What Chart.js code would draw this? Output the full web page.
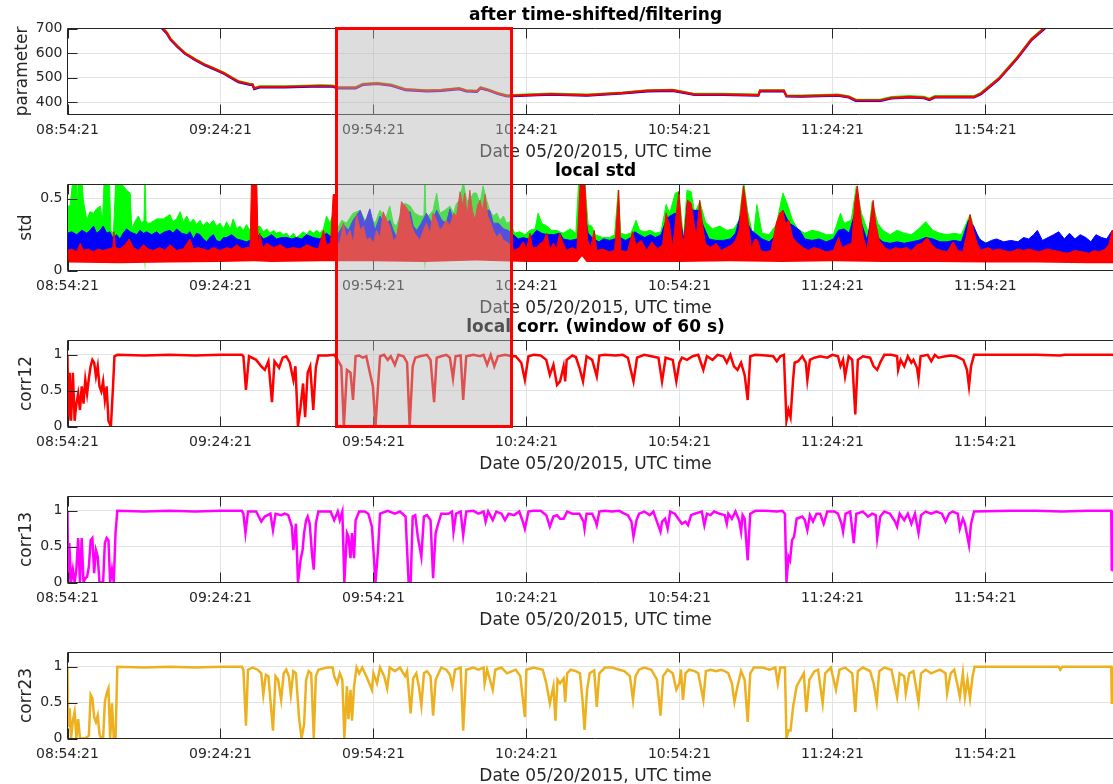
<!DOCTYPE html>
<html>
<head>
<meta charset="utf-8">
<script src="https://cdn.jsdelivr.net/npm/chart.js@4.4.1/dist/chart.umd.min.js"></script>
<style>
  html, body { margin: 0; padding: 0; background: #fff; }
  body { width: 1113px; height: 784px; overflow: hidden; position: relative; }
  .panel { position: absolute; left: 0; width: 1124px; height: 170px; }
  #box { position: absolute; box-sizing: border-box; border: 3.5px solid #ff0000;
         background: rgba(180, 180, 180, 0.45); z-index: 10; }
</style>
</head>
<body>
<div class="panel" style="top:0px"><canvas id="p1" width="1124" height="170"></canvas></div>
<div class="panel" style="top:156px"><canvas id="p2" width="1124" height="170"></canvas></div>
<div class="panel" style="top:312px"><canvas id="p3" width="1124" height="170"></canvas></div>
<div class="panel" style="top:468px"><canvas id="p4" width="1124" height="170"></canvas></div>
<div class="panel" style="top:624px"><canvas id="p5" width="1124" height="170"></canvas></div>
<div id="box"></div>
<script>
// ---- x axis: minutes after 08:54:21 ----
const tickMinutes = [0, 30, 60, 90, 120, 150, 180];
const tickLabels = ["08:54:21", "09:24:21", "09:54:21", "10:24:21", "10:54:21", "11:24:21", "11:54:21"];
const xMax = 207.1;
const xLabel = "Date 05/20/2015, UTC time";

// highlighted window (minutes)
const boxStart = 52.9;
const boxEnd = 87.0;

// ---- panel 1: parameter ----
const paramT = [17.5,18.7,19.5,20.2,21.6,23.0,25.1,27.0,28.6,30.7,
  32.1,33.5,35.6,36.3,36.6,37.7,42.6,49.5,52.0,53.0,
  56.5,57.9,60.7,63.5,66.3,70.5,73.3,76.8,78.2,80.3,
  81.0,82.3,84.4,86.2,89.7,94.8,101.9,108.9,113.8,118.7,
  123.0,128.6,135.5,135.8,140.5,141.0,144.0,151.1,153.2,154.6,
  159.5,161.6,165.1,168.0,169.0,170.1,177.8,179.2,182.7,186.2,
  189.0,191.5,193.0];
const paramRed = [728,700,682,657,627,600,573,552,538,518,
  501,484,474,472,456,463,463,467,466,459,
  459,473,477,470,452,447,449,456,447,445,
  459,452,436,426,429,433,429,438,447,449,
  432,432,429,447,447,426,425,429,422,408,
  408,418,422,419,411,422,422,436,497,579,
  655,700,728];
const paramBlue = [724,696,678,654,624,597,570,549,535,515,
  498,481,471,469,453,460,460,464,463,456,
  456,470,474,467,449,444,446,453,444,442,
  456,449,433,423,426,430,426,435,444,446,
  429,429,426,444,444,423,422,426,419,405,
  405,415,419,416,408,419,419,433,493,575,
  651,696,724];
const paramGreen = [730,702,684,659,629,602,575,554,540,520,
  503,486,476,474,458,465,465,469,468,461,
  461,475,479,472,454,449,451,458,449,447,
  461,454,438,428,431,435,431,440,449,451,
  434,434,431,449,449,428,427,431,424,410,
  411,421,425,422,414,425,425,439,500,582,
  658,703,731];

// ---- panel 2: local std (upper envelopes) ----
const stdGreenT = [0,0.5,1.1,1.7,1.9,2.1,2.8,3.1,3.8,4.4,
  5.1,5.7,6.4,6.9,7.2,8.2,8.5,9.0,9.5,10.3,
  10.9,11.6,12.3,12.6,13.2,13.9,14.5,15.0,15.2,15.4,
  15.7,16.2,17.5,18.8,20.1,20.7,21.4,22.1,22.7,23.4,
  24.0,24.7,25.3,26.0,26.6,27.3,27.9,28.6,29.2,29.9,
  30.6,31.2,31.9,32.5,33.2,33.8,34.5,35.1,35.8,36.6,
  37.7,38.4,39.1,39.7,40.4,41.0,41.7,42.3,43.0,43.6,
  44.3,44.9,45.6,46.2,46.9,47.5,48.2,48.9,49.5,50.2,
  50.8,51.5,52.1,53.0,53.8,54.7,56.0,57.4,58.3,59.3,
  60.3,61.3,62.3,63.2,63.9,64.5,65.2,66.2,67.2,68.1,
  69.1,69.9,70.1,70.3,70.8,71.7,72.4,73.0,74.0,75.0,
  75.7,76.3,77.0,77.6,78.3,78.9,79.6,80.2,80.9,81.5,
  82.2,82.8,83.5,84.2,84.8,85.5,86.1,86.8,87.7,88.7,
  89.7,90.7,91.7,92.3,93.0,94.0,94.9,95.9,97.2,98.6,
  99.7,100.3,101.4,102.1,102.8,103.5,104.9,106.3,107.3,108.0,
  108.5,109.4,110.5,111.5,112.2,113.2,114.3,115.3,116.4,117.4,
  118.1,119.2,119.9,120.8,121.5,122.3,123.0,124.0,125.1,126.5,
  127.9,129.3,130.7,131.7,132.6,133.4,134.5,135.2,136.2,137.6,
  139.0,140.3,141.1,142.2,143.2,144.6,146.0,147.4,148.8,150.2,
  151.6,152.3,153.7,154.7,155.7,157.1,157.8,158.9,159.9,161.3,
  162.7,164.1,165.5,166.9,168.3,169.7,171.1,172.5,173.9,175.3,
  177.0,178.0,179.4,185.0,195.0,207.1];
const stdGreenV = [0.45,0.45,0.65,0.65,0.40,0.65,0.65,0.49,0.35,0.41,
  0.40,0.43,0.45,0.35,0.65,0.65,0.28,0.26,0.65,0.65,
  0.59,0.56,0.54,0.29,0.34,0.38,0.33,0.35,0.65,0.35,
  0.33,0.33,0.36,0.36,0.39,0.34,0.36,0.41,0.34,0.38,
  0.33,0.36,0.32,0.35,0.31,0.34,0.32,0.35,0.31,0.33,
  0.29,0.34,0.29,0.36,0.29,0.31,0.28,0.32,0.28,0.30,
  0.31,0.27,0.29,0.26,0.28,0.26,0.27,0.25,0.26,0.23,
  0.26,0.23,0.25,0.27,0.25,0.28,0.26,0.28,0.26,0.29,
  0.38,0.33,0.40,0.30,0.35,0.33,0.40,0.42,0.35,0.38,
  0.33,0.42,0.35,0.45,0.33,0.31,0.38,0.47,0.45,0.40,
  0.38,0.38,0.65,0.38,0.38,0.42,0.54,0.40,0.42,0.45,
  0.40,0.47,0.49,0.62,0.49,0.49,0.54,0.54,0.47,0.59,
  0.49,0.42,0.38,0.40,0.35,0.38,0.33,0.34,0.26,0.27,
  0.25,0.28,0.29,0.40,0.33,0.31,0.28,0.28,0.26,0.29,
  0.26,0.65,0.65,0.32,0.31,0.25,0.23,0.23,0.25,0.56,
  0.26,0.25,0.26,0.35,0.28,0.27,0.28,0.26,0.27,0.46,
  0.40,0.54,0.55,0.22,0.56,0.55,0.40,0.48,0.34,0.29,
  0.31,0.28,0.29,0.35,0.62,0.41,0.23,0.46,0.26,0.25,
  0.32,0.54,0.47,0.35,0.29,0.26,0.28,0.27,0.25,0.25,
  0.40,0.33,0.35,0.59,0.40,0.26,0.48,0.33,0.28,0.25,
  0.28,0.26,0.25,0.29,0.34,0.28,0.26,0.25,0.26,0.25,
  0.39,0.27,0.20,0.17,0.17,0.17];
// green lower edge (mostly hidden under red, with a few drop-outs)
const stdGreenLowT = [0,15.0,15.2,15.4,69.9,70.1,70.3,196.7,196.9,197.1,207.1];
const stdGreenLowV = [0.11,0.11,0,0.11,0.11,0,0.11,0.11,0.04,0.11,0.11];

const stdBlueT = [0,0.8,1.8,2.8,3.8,4.4,5.1,5.7,6.4,7.0,
  7.7,8.3,9.0,9.6,10.3,10.9,11.6,12.3,12.9,13.6,
  14.2,14.9,15.5,16.5,17.5,18.1,19.1,20.1,20.7,21.4,
  22.4,23.4,24.0,24.7,25.3,26.0,26.6,27.3,27.9,28.6,
  29.2,29.9,30.6,31.2,32.2,33.2,34.2,35.1,36.5,37.7,
  38.4,39.1,40.0,41.0,42.0,43.0,44.0,44.9,45.9,46.9,
  48.2,49.5,50.8,51.8,53.0,54.1,55.1,56.0,57.4,58.3,
  59.3,60.3,61.3,62.3,63.2,63.9,64.5,65.2,65.8,67.2,
  67.8,68.5,69.4,70.4,71.4,72.4,73.4,74.3,75.0,75.7,
  76.3,77.0,77.9,78.9,79.9,80.9,81.9,82.8,83.5,84.5,
  85.5,86.4,87.4,88.4,89.4,90.4,91.3,92.0,93.0,94.0,
  95.3,96.6,97.2,98.6,100.0,101.0,102.1,103.1,104.2,105.2,
  106.3,107.3,108.4,109.4,110.5,111.2,112.2,113.2,114.3,115.3,
  116.4,117.4,118.1,119.2,120.2,120.9,121.6,122.6,123.7,124.7,
  125.8,127.2,128.6,130.0,131.0,132.1,133.1,134.1,135.2,136.2,
  137.6,139.0,140.3,141.5,142.5,143.6,144.6,146.0,147.4,148.8,
  150.2,151.2,152.3,153.3,154.4,155.7,156.8,157.8,158.9,159.9,
  161.3,162.7,164.1,165.5,166.9,168.3,169.7,171.1,172.5,173.9,
  175.3,176.7,177.7,178.8,180.1,181.2,182.2,183.6,185.0,186.4,
  187.5,188.5,189.5,190.2,191.2,192.3,193.4,194.4,195.5,196.5,
  197.6,198.6,199.7,200.7,201.7,202.8,203.8,204.9,206.0,207.1];
const stdBlueV = [0.26,0.27,0.25,0.28,0.26,0.28,0.31,0.26,0.28,0.31,
  0.26,0.27,0.22,0.25,0.22,0.26,0.29,0.27,0.26,0.25,
  0.28,0.26,0.27,0.25,0.27,0.25,0.27,0.28,0.26,0.29,
  0.26,0.25,0.27,0.22,0.26,0.25,0.22,0.20,0.23,0.25,
  0.21,0.20,0.23,0.23,0.25,0.22,0.21,0.20,0.22,0.25,
  0.22,0.23,0.25,0.22,0.23,0.23,0.22,0.23,0.22,0.25,
  0.23,0.22,0.26,0.23,0.25,0.32,0.28,0.35,0.42,0.33,
  0.43,0.28,0.38,0.31,0.35,0.28,0.23,0.33,0.38,0.41,
  0.31,0.28,0.33,0.40,0.33,0.42,0.35,0.33,0.43,0.35,
  0.31,0.38,0.35,0.42,0.36,0.40,0.42,0.42,0.33,0.33,
  0.29,0.28,0.25,0.22,0.23,0.22,0.25,0.28,0.26,0.25,
  0.25,0.26,0.22,0.21,0.22,0.49,0.26,0.22,0.20,0.22,
  0.21,0.22,0.23,0.21,0.23,0.27,0.25,0.23,0.25,0.23,
  0.25,0.35,0.38,0.40,0.35,0.21,0.49,0.42,0.42,0.31,
  0.22,0.21,0.21,0.22,0.26,0.40,0.35,0.28,0.25,0.22,
  0.20,0.25,0.42,0.33,0.31,0.28,0.22,0.21,0.22,0.20,
  0.22,0.28,0.29,0.26,0.40,0.33,0.21,0.40,0.23,0.20,
  0.19,0.20,0.19,0.20,0.21,0.23,0.22,0.20,0.20,0.21,
  0.20,0.35,0.31,0.22,0.19,0.21,0.22,0.20,0.21,0.20,
  0.23,0.22,0.25,0.28,0.21,0.23,0.25,0.27,0.22,0.26,
  0.22,0.25,0.23,0.20,0.25,0.23,0.22,0.28,0.24,0.22];

const stdRedT = [0,0.8,1.8,2.5,3.1,4.1,5.1,6.0,7.0,8.0,
  8.9,9.1,9.4,10.3,11.3,12.1,12.9,13.9,14.9,15.8,
  16.8,18.1,19.1,20.1,21.4,22.7,24.0,24.7,25.6,26.6,
  27.6,28.6,29.9,31.2,32.2,33.2,34.2,35.1,35.8,36.1,
  37.1,37.4,37.7,38.3,39.1,40.4,41.7,43.0,44.3,45.6,
  46.9,48.2,49.2,50.2,50.8,51.6,52.1,52.6,53.0,53.4,
  54.1,54.7,55.4,56.0,56.7,57.4,58.0,58.7,59.3,60.0,
  60.6,61.3,61.9,62.6,63.2,63.9,64.5,65.1,65.5,66.2,
  66.8,67.5,68.1,69.1,69.8,70.4,71.1,71.7,72.4,73.0,
  73.7,74.3,75.0,75.7,76.3,77.0,77.5,77.9,78.4,78.9,
  79.4,79.9,80.4,80.9,81.4,81.9,82.4,82.8,83.5,84.2,
  84.8,85.5,86.1,86.8,87.7,88.6,89.4,90.0,90.7,91.2,
  92.0,92.7,93.3,94.0,94.6,95.3,95.9,96.5,97.2,97.9,
  99.0,99.9,100.6,101.4,102.0,102.6,103.3,103.8,104.9,106.3,
  107.3,107.8,108.1,108.5,109.8,110.8,111.5,112.5,113.6,114.6,
  115.7,116.7,117.4,118.0,118.7,119.4,119.9,120.6,121.0,121.6,
  122.3,122.9,123.3,124.0,124.5,125.1,126.1,127.2,128.2,129.3,
  130.3,131.0,131.7,132.2,132.6,133.1,133.6,134.1,134.8,135.4,
  135.9,136.9,138.0,139.0,139.7,140.3,140.8,141.5,142.2,143.2,
  144.3,145.3,146.3,147.4,148.8,150.2,151.2,151.9,153.0,153.8,
  154.4,154.9,155.5,156.1,156.8,157.5,158.0,158.5,159.2,160.3,
  161.3,162.4,163.4,164.5,165.5,166.6,167.6,168.6,169.3,170.4,
  171.4,172.5,173.7,174.6,175.6,176.5,177.0,177.7,178.4,179.1,
  180.5,181.5,182.6,183.6,185.0,186.4,187.5,188.5,189.5,190.6,
  192.0,193.4,194.8,196.2,197.6,199.0,200.3,201.4,202.4,203.5,
  204.2,204.9,206.0,207.1];
const stdRedV = [0.14,0.15,0.13,0.19,0.14,0.15,0.13,0.15,0.14,0.15,
  0.16,0.27,0.16,0.15,0.18,0.22,0.16,0.14,0.18,0.15,
  0.14,0.16,0.14,0.18,0.14,0.15,0.22,0.15,0.16,0.15,
  0.14,0.16,0.14,0.16,0.15,0.18,0.15,0.16,0.16,0.65,
  0.65,0.16,0.26,0.16,0.19,0.16,0.18,0.15,0.16,0.15,
  0.18,0.16,0.15,0.28,0.18,0.19,0.53,0.53,0.19,0.19,
  0.33,0.23,0.28,0.19,0.39,0.28,0.31,0.21,0.23,0.19,
  0.28,0.23,0.41,0.35,0.31,0.21,0.23,0.35,0.48,0.45,
  0.42,0.31,0.26,0.21,0.28,0.33,0.26,0.40,0.35,0.28,
  0.31,0.35,0.31,0.40,0.38,0.55,0.45,0.54,0.38,0.56,
  0.42,0.35,0.45,0.49,0.42,0.53,0.38,0.35,0.28,0.23,
  0.26,0.21,0.20,0.18,0.14,0.16,0.20,0.15,0.26,0.16,
  0.16,0.19,0.20,0.26,0.15,0.19,0.15,0.26,0.19,0.14,
  0.16,0.14,0.65,0.65,0.21,0.16,0.28,0.14,0.15,0.13,
  0.14,0.40,0.56,0.14,0.13,0.27,0.18,0.21,0.14,0.20,
  0.15,0.18,0.40,0.33,0.16,0.40,0.55,0.21,0.23,0.49,
  0.47,0.33,0.23,0.49,0.33,0.19,0.16,0.19,0.14,0.16,
  0.18,0.21,0.28,0.47,0.59,0.45,0.31,0.16,0.22,0.21,
  0.14,0.13,0.14,0.33,0.40,0.42,0.33,0.35,0.23,0.19,
  0.16,0.14,0.16,0.15,0.13,0.14,0.23,0.16,0.18,0.19,
  0.47,0.59,0.40,0.23,0.14,0.35,0.49,0.33,0.21,0.16,
  0.14,0.16,0.15,0.16,0.14,0.18,0.19,0.23,0.19,0.15,
  0.14,0.13,0.20,0.14,0.13,0.28,0.39,0.28,0.19,0.14,
  0.16,0.14,0.15,0.14,0.13,0.15,0.14,0.15,0.14,0.13,
  0.15,0.14,0.13,0.12,0.14,0.13,0.12,0.14,0.13,0.15,
  0.18,0.28,0.16,0.14];
const stdRedLowT = [0,10,20,30,36.6,40,50,60,70,80,
  90,100,100.9,101.8,110,120,130,140,150,160,
  170,180,190,200,207.1];
const stdRedLowV = [0.055,0.05,0.055,0.06,0.065,0.06,0.065,0.065,0.06,0.07,
  0.06,0.06,0.10,0.06,0.06,0.06,0.065,0.06,0.065,0.06,
  0.06,0.055,0.055,0.05,0.05];

// ---- panels 3-5: local correlations ----
const corr12T = [0,0.14,0.42,0.70,1.05,1.40,1.74,2.09,2.44,2.79,
  3.14,3.49,3.84,4.19,4.54,4.88,5.23,5.58,5.93,6.28,
  6.63,6.98,7.33,7.68,8.03,8.51,8.93,9.21,9.77,15,
  20,25,30,34.2,34.5,35.0,35.6,37.0,38.0,38.7,
  39.4,40.1,40.6,41.5,42.2,42.9,43.6,44.3,44.7,45.2,
  45.7,46.2,46.6,47.1,47.6,48.2,48.7,49.2,50.9,52.3,
  53.0,53.7,54.2,54.8,55.5,56.0,56.5,57.2,57.9,58.6,
  59.3,59.9,60.4,60.9,61.3,62.1,62.8,63.4,64.2,64.9,
  65.9,66.6,67.1,67.7,68.2,69.1,70.5,71.2,71.9,72.4,
  73.3,74.3,75.0,75.6,76.1,77.1,77.6,78.2,79.6,80.9,
  81.6,82.3,83.0,83.7,84.4,85.8,87.2,87.9,89.0,89.7,
  90.4,91.4,92.8,93.9,94.6,95.3,96.0,96.6,97.3,97.6,
  97.9,99.0,99.7,100.4,101.1,101.8,102.9,103.8,104.3,105.4,
  107.5,108.9,109.9,111.0,111.7,113.1,114.5,115.9,116.6,117.3,
  118.7,119.4,120.0,120.5,121.5,122.6,123.7,124.7,125.4,126.5,
  127.5,128.6,129.3,130.0,130.7,131.4,132.1,132.8,133.4,133.9,
  134.9,137.0,138.4,139.1,139.8,140.5,141.0,141.4,141.8,142.3,
  142.6,143.3,144.1,144.8,145.1,145.6,146.5,147.6,149.0,150.0,
  151.1,151.6,152.1,152.5,153.2,153.9,154.5,155.0,156.0,157.4,
  158.1,158.8,159.5,160.2,161.6,162.7,162.9,163.4,164.1,164.8,
  165.5,165.9,166.6,166.9,167.3,168.7,169.4,170.1,170.8,172.2,
  173.2,174.3,175.7,176.4,176.8,177.2,177.8,185,190,194.7,
  195.5,200,204.8,207.1];
const corr12V = [1.00,0.08,0.75,0.08,0.75,0.08,0.32,0.46,0.23,0.56,
  0.32,0.65,0.46,0.67,0.84,0.93,0.89,0.70,0.84,0.56,
  0.49,0.63,0.37,0.56,0.08,0,0.56,0.98,1.00,0.99,
  1.00,0.99,1.00,1.00,0.98,0.51,0.98,0.93,0.84,0.79,
  0.91,0.34,0.91,0.82,0.96,0.98,0.89,0.65,0.84,0,
  0.27,0.60,0.13,0.75,0.84,0.23,0.82,0.99,0.99,1.00,
  0.93,0.84,0,0.79,0.75,0.37,0.98,0.99,0.96,0.98,
  0.75,0.56,0,0.56,0.98,1.00,0.93,0.98,0.86,1.00,
  0.98,0.89,0,0.84,0.96,0.98,1.00,0.93,0.34,0.96,
  0.98,1.00,0.96,0.67,0.98,0.99,0.37,0.98,1.00,0.98,
  1.00,0.86,1.00,0.84,0.98,1.00,0.98,0.98,0.89,0.65,
  0.98,1.00,0.99,0.93,0.72,0.86,0.58,0.63,0.84,0.63,
  0.93,0.99,0.97,0.82,0.63,0.98,0.93,0.70,0.99,1.00,
  0.99,1.00,0.96,0.63,0.96,1.00,0.98,0.96,0.63,0.96,
  0.93,0.63,0.89,0.96,0.93,0.98,1.00,0.79,0.98,0.93,
  1.00,0.98,0.89,1.00,0.84,0.79,0.89,0.72,0.37,0.98,
  1.00,0.99,0.98,0.91,0.98,1.00,0.08,0.23,0.13,0.65,
  0.89,0.91,0.98,0.89,0.65,0.93,0.96,0.98,0.96,1.00,
  0.98,0.84,0.93,0.70,0.98,0.93,0.17,0.93,0.98,0.96,
  0.84,0.79,0.91,1.00,1.00,0.98,0.79,0.93,0.84,0.98,
  0.89,0.93,0.82,0.67,0.98,1.00,0.91,1.00,0.96,0.98,
  0.99,0.98,0.93,0.79,0.56,0.84,1.00,1.00,1.00,0.99,
  1.00,1.00,1.00,0.98];

const corr13T = [0,0.14,0.35,0.70,1.05,1.40,1.74,2.09,2.44,2.79,
  3.14,3.49,3.84,4.19,4.54,4.88,5.23,5.58,5.93,6.28,
  6.98,7.33,7.68,8.03,8.37,8.72,9.07,9.42,9.77,15,
  20,25,30,34.2,34.5,34.9,35.4,37.0,38.0,38.7,
  39.8,40.3,40.8,41.9,42.6,43.3,44.0,44.3,44.8,45.2,
  45.7,46.1,46.4,46.8,47.1,47.5,48.0,48.3,48.7,49.2,
  51.6,52.3,53.0,53.4,53.9,54.3,54.8,55.1,55.5,55.8,
  56.2,56.5,57.2,58.3,59.0,59.7,60.0,60.4,60.9,61.3,
  62.8,64.2,65.2,66.3,66.9,67.3,67.7,68.2,68.7,69.4,
  69.9,70.5,71.2,71.7,72.2,72.7,73.3,74.7,75.4,75.7,
  76.2,77.1,77.6,78.2,79.6,80.6,81.6,82.0,82.5,83.4,
  84.1,85.1,85.8,86.5,87.6,88.6,89.3,89.7,90.4,91.4,
  92.8,93.9,94.6,95.3,96.0,96.6,97.3,98.0,99.0,100.4,
  101.2,101.4,101.8,102.9,103.6,103.8,104.3,105.4,106.8,108.2,
  109.2,109.9,110.6,111.0,111.6,112.1,113.1,114.2,114.9,115.6,
  116.3,116.6,117.2,117.7,118.2,119.1,119.8,120.5,121.2,121.7,
  122.3,123.0,124.4,124.9,125.4,126.1,126.8,127.9,128.9,129.3,
  129.6,130.3,131.0,131.7,132.1,132.4,132.8,133.4,133.9,134.9,
  137.0,139.1,140.2,140.7,141.0,141.4,141.7,142.1,142.5,143.0,
  144.1,144.6,145.1,145.6,146.2,146.9,147.6,148.3,149.0,150.4,
  151.1,151.8,152.1,152.6,153.5,154.2,154.7,156.0,157.0,157.8,
  158.5,158.8,159.4,160.2,161.3,162.3,162.7,163.2,164.1,164.8,
  165.5,166.2,166.9,167.4,168.3,169.4,170.4,171.5,172.2,172.9,
  173.6,174.6,175.0,175.6,176.0,176.8,177.2,177.8,185,190,
  195,200,204.7,204.8,207.1];
const corr13V = [1.00,0,0.55,0,0.18,0,0.18,0.62,0,0.62,
  0,0.06,0.08,0.22,0.59,0.62,0.13,0.45,0.36,0,
  0,0.55,0.62,0.59,0,0.18,0,0.69,1.00,0.99,
  1.00,0.99,1.00,1.00,0.96,0.69,0.99,0.99,0.85,0.92,
  0.96,0.73,0.96,0.94,0.96,0.94,0.78,0.45,0.82,0,
  0.31,0.45,0.69,0.87,0.92,0.82,0.36,0.18,0.82,0.99,
  0.99,0.87,0.99,0.87,0.99,0,0.69,0.64,0.34,0.69,
  0.34,0.87,0.99,0.99,0.96,0.78,0.45,0,0.45,0.96,
  1.00,0.96,0.99,0.92,0,0,0.92,0.94,0.64,0.36,
  0.92,0.94,0.87,0.06,0.69,0.82,0.96,0.96,0.99,0.71,
  0.96,0.99,0.66,0.99,1.00,0.96,0.99,0.85,0.99,0.87,
  0.99,0.96,0.87,0.96,0.94,0.99,0.85,0.75,0.99,1.00,
  1.00,0.94,0.78,0.92,0.94,0.89,0.89,0.99,0.96,0.96,
  0.85,0.75,0.96,0.96,0.85,0.80,0.99,1.00,0.99,1.00,
  0.96,0.94,0.85,0.64,0.87,0.96,0.99,0.94,0.99,0.85,
  0.71,0.85,0.89,0.75,0.99,0.96,0.89,0.82,0.85,0.80,
  0.94,0.96,0.99,0.80,0.96,0.94,0.99,0.96,0.94,0.82,
  0.96,0.89,0.99,0.87,0.71,0.94,0.89,0.31,0.96,1.00,
  1.00,0.99,1.00,0.96,0,0.36,0.31,0.59,0.64,0.89,
  0.92,0.87,0.73,0.94,0.85,0.96,0.96,0.82,0.99,0.99,
  0.96,0.82,0.71,0.96,0.99,0.55,0.96,0.99,0.92,0.96,
  0.94,0.62,0.92,0.99,0.96,0.85,0.78,0.96,0.87,0.96,
  0.82,0.96,0.69,0.94,0.99,0.96,0.99,0.96,0.85,0.96,
  0.99,0.96,0.75,0.89,0.82,0.52,0.82,0.99,1.00,1.00,
  0.99,1.00,1.00,0.18,0.10];

const corr23T = [0,0.14,0.42,0.70,1.05,1.40,1.74,2.09,2.44,2.79,
  3.49,4.19,4.54,4.88,5.23,5.58,5.93,6.28,6.63,6.98,
  7.33,7.68,8.03,8.37,8.72,9.07,9.42,9.77,15,20,
  25,30,34.2,34.5,35.0,35.4,36.3,37.3,38.0,38.4,
  38.9,39.4,40.3,40.8,41.3,41.9,42.4,42.9,43.4,43.8,
  44.3,44.8,45.4,45.9,46.4,46.8,47.3,47.8,48.3,48.7,
  49.2,50.9,52.0,52.3,52.9,53.4,53.9,54.3,54.8,55.1,
  55.5,55.8,56.2,56.7,57.2,57.8,58.6,59.3,59.7,60.0,
  60.7,61.3,62.1,62.7,63.2,64.2,65.2,66.2,66.6,67.3,
  67.8,68.4,68.9,69.4,69.9,70.5,71.2,71.7,72.2,73.3,
  74.3,75.0,75.5,76.0,77.1,77.6,78.2,79.6,80.6,81.6,
  81.8,82.3,83.4,83.9,85.1,86.2,87.2,87.9,88.8,89.7,
  90.0,91.4,93.2,93.9,94.6,95.3,95.7,96.1,96.6,97.3,
  97.6,98.0,98.7,99.7,100.5,101.0,101.4,101.9,102.4,103.3,
  103.8,104.3,105.4,106.8,108.2,109.2,110.3,110.9,111.4,112.1,
  113.1,114.5,115.6,116.3,116.8,117.7,118.7,119.4,120.0,120.3,
  120.7,121.2,121.9,123.0,123.7,124.7,125.2,126.1,127.2,128.2,
  128.9,129.6,130.3,130.8,131.4,132.1,132.8,133.4,133.9,134.6,
  136.3,137.7,138.8,139.3,139.8,140.7,141.0,141.4,141.8,142.3,
  143.0,143.7,144.4,144.9,145.5,146.5,147.2,148.1,148.6,149.7,
  150.7,151.4,152.5,153.9,154.5,155.0,156.0,157.4,158.1,158.7,
  159.2,160.2,161.6,162.7,163.2,164.1,164.4,165.1,165.9,166.9,
  167.4,168.3,169.4,170.4,171.1,172.2,172.5,173.2,173.9,174.6,
  175.0,175.6,176.0,176.5,177.0,177.5,177.9,185,190,194.4,
  194.7,195.1,200,204.7,204.8,207.1];
const corr23V = [1.00,0.16,0.42,0,0.25,0.37,0,0.27,0.01,0,
  0,0.04,0.61,0.56,0.30,0.23,0.32,0.06,0,0,
  0.51,0.63,0.70,0,0.49,0,0,1.00,0.99,1.00,
  0.99,1.00,1.00,0.96,0.18,0.96,0.99,0.96,0.91,0.61,
  0.89,0.87,0.11,0.87,0.82,0.54,0.91,0.96,0.87,0.61,
  0.94,0.91,0.30,0,0.20,0.82,0.94,0.91,0,0.87,
  0.96,0.99,0.99,0.87,0.77,0.91,0.82,0,0.73,0.27,
  0.68,0.25,0.73,0.99,0.91,0.99,0.87,0.75,0.68,0.91,
  0.77,0.99,0.87,0.70,0.99,0.94,0.99,0.87,0.94,0.35,
  0.84,0.91,0.73,0.46,0.91,0.94,0.87,0.32,0.82,0.99,
  0.96,0.89,0.73,0.96,0.99,0.11,0.96,0.99,0.96,0.99,
  0.77,0.96,0.68,0.96,0.99,0.91,0.94,0.96,0.87,0.30,
  0.96,0.99,0.96,0.77,0.49,0.73,0.25,0.82,0.77,0.84,
  0.51,0.91,0.96,0.94,0.91,0.54,0.12,0.68,0.91,0.95,
  0.44,0.91,0.99,0.99,0.96,0.94,0.87,0.54,0.87,0.96,
  0.99,0.96,0.82,0.32,0.87,0.96,0.91,0.68,0.77,0.96,
  0.54,0.91,0.96,0.94,0.91,0.54,0.94,0.96,0.94,0.96,
  0.94,0.91,0.77,0.51,0.73,0.94,0.82,0.23,0.91,0.99,
  0.99,0.96,0.99,0.77,0.99,0.99,0,0.11,0.11,0.44,
  0.73,0.82,0.91,0.37,0.82,0.94,0.96,0.49,0.91,0.99,
  0.68,0.96,0.99,0.91,0.37,0.94,0.99,0.94,0.77,0.51,
  0.94,0.99,0.96,0.58,0.91,0.87,0.63,0.91,0.94,0.51,
  0.91,0.96,0.91,0.94,0.96,0.91,0.63,0.91,0.96,0.73,
  0.58,0.91,0.58,0.82,0.56,0.87,1.00,1.00,1.00,1.00,
  0.96,1.00,1.00,1.00,0.50,0.50];

// ---- styling ----
const FONT = "DejaVu Sans";
const textColor = "#262626";
const gridColor = "#e3e3e3";
const tickLen = 10;

function pts(name, t, v) {
  if (t.length !== v.length) throw new Error(name + ": " + t.length + " vs " + v.length);
  return t.map((x, i) => ({ x: x, y: v[i] }));
}

// axes box, inner tick marks and the panel title
const framePlugin = {
  id: "frame",
  afterDatasetsDraw(chart, args, opts) {
    const { ctx, chartArea: a, scales } = chart;
    ctx.save();
    ctx.strokeStyle = textColor;
    ctx.lineWidth = 1;
    ctx.beginPath();
    ctx.moveTo(a.right, a.top); ctx.lineTo(a.left, a.top); ctx.lineTo(a.left, a.bottom); ctx.lineTo(a.right, a.bottom);
    for (const t of scales.x.ticks) {
      const px = Math.round(scales.x.getPixelForValue(t.value)) + 0.5;
      ctx.moveTo(px, a.top); ctx.lineTo(px, a.top + tickLen);
      ctx.moveTo(px, a.bottom); ctx.lineTo(px, a.bottom - tickLen);
    }
    for (const t of scales.y.ticks) {
      const py = Math.round(scales.y.getPixelForValue(t.value)) + 0.5;
      ctx.moveTo(a.left, py); ctx.lineTo(a.left + tickLen, py);
    }
    ctx.stroke();
    if (opts.text) {
      ctx.font = "bold 17px '" + FONT + "'";
      ctx.fillStyle = "#000";
      ctx.textAlign = "center";
      ctx.textBaseline = "middle";
      ctx.fillText(opts.text, (a.left + a.right) / 2, 15.5);
    }
    ctx.restore();
  }
};

function makePanel(id, p) {
  return new Chart(document.getElementById(id), {
    type: "line",
    data: { datasets: p.datasets },
    plugins: [framePlugin],
    options: {
      animation: false,
      responsive: false,
      events: [],
      parsing: false,
      layout: { padding: { top: 28.5, left: 0, right: 0.5, bottom: 0 } },
      elements: { point: { radius: 0 }, line: { tension: 0 } },
      plugins: {
        legend: { display: false },
        tooltip: { enabled: false },
        frame: { text: p.title }
      },
      scales: {
        x: {
          type: "linear", min: 0, max: xMax,
          afterFit: s => { s.height = 55.5; },
          afterBuildTicks: s => { s.ticks = tickMinutes.map(v => ({ value: v })); },
          ticks: {
            callback: (v, i) => tickLabels[i],
            color: textColor, font: { family: FONT, size: 14 },
            padding: 7, maxRotation: 0, autoSkip: false
          },
          grid: { color: gridColor, drawTicks: false },
          border: { display: false },
          title: {
            display: true, text: xLabel, color: textColor,
            font: { family: FONT, size: 17 }, padding: { top: 0, bottom: 7.5 }
          }
        },
        y: {
          min: p.yMin, max: p.yMax,
          afterFit: s => { s.width = 67.5; },
          afterBuildTicks: s => { s.ticks = p.yTicks.map(v => ({ value: v })); },
          ticks: {
            callback: v => String(v),
            color: textColor, font: { family: FONT, size: 14 }, padding: 5
          },
          grid: { color: gridColor, drawTicks: false },
          border: { display: false },
          title: {
            display: true, text: p.yLabel, color: textColor,
            font: { family: FONT, size: 17 }, padding: { top: p.yPad, bottom: 0 }
          }
        }
      }
    }
  });
}

const lineSet = (label, data, color, width) => ({
  label, data, borderColor: color, borderWidth: width, fill: false
});
const bandSet = (label, data, color, fill) => ({
  label, data, borderColor: color, borderWidth: 1, backgroundColor: color, fill
});
const edgeSet = (label, data) => ({
  label, data, borderColor: "rgba(0,0,0,0)", borderWidth: 0, fill: false
});

const charts = [];

charts.push(makePanel("p1", {
  title: "after time-shifted/filtering",
  yLabel: "parameter", yPad: 12.5,
  yMin: 350, yMax: 700, yTicks: [400, 500, 600, 700],
  datasets: [
    lineSet("red", pts("paramRed", paramT, paramRed), "#ff0000", 2.2),
    lineSet("blue", pts("paramBlue", paramT, paramBlue), "#0000ff", 2),
    lineSet("green", pts("paramGreen", paramT, paramGreen), "#00ff00", 2)
  ]
}));

charts.push(makePanel("p2", {
  title: "local std",
  yLabel: "std", yPad: 16.1,
  yMin: 0, yMax: 0.6, yTicks: [0, 0.5],
  datasets: [
    bandSet("red", pts("stdRed", stdRedT, stdRedV), "#ff0000", 1),
    edgeSet("redLow", pts("stdRedLow", stdRedLowT, stdRedLowV)),
    bandSet("blue", pts("stdBlue", stdBlueT, stdBlueV), "#0000ff", { value: 0.11 }),
    bandSet("green", pts("stdGreen", stdGreenT, stdGreenV), "#00ff00", 4),
    edgeSet("greenLow", pts("stdGreenLow", stdGreenLowT, stdGreenLowV))
  ]
}));

charts.push(makePanel("p3", {
  title: "local corr. (window of 60 s)",
  yLabel: "corr12", yPad: 16.1,
  yMin: 0, yMax: 1.2, yTicks: [0, 0.5, 1],
  datasets: [lineSet("corr12", pts("corr12", corr12T, corr12V), "#ff0000", 2.5)]
}));

charts.push(makePanel("p4", {
  title: "",
  yLabel: "corr13", yPad: 16.1,
  yMin: 0, yMax: 1.2, yTicks: [0, 0.5, 1],
  datasets: [lineSet("corr13", pts("corr13", corr13T, corr13V), "#ff00ff", 2.5)]
}));

charts.push(makePanel("p5", {
  title: "",
  yLabel: "corr23", yPad: 16.1,
  yMin: 0, yMax: 1.2, yTicks: [0, 0.5, 1],
  datasets: [lineSet("corr23", pts("corr23", corr23T, corr23V), "#edb120", 2.5)]
}));

// highlighted window, placed with the scales of panel 1 and panel 3
const panelTops = [0, 156, 312, 468, 624];
const bw = 3.5;
const xs = charts[0].scales.x;
const boxLeft = xs.getPixelForValue(boxStart);
const boxRight = xs.getPixelForValue(boxEnd);
const boxTop = panelTops[0] + charts[0].scales.y.getPixelForValue(700);
const boxBottom = panelTops[2] + charts[2].scales.y.getPixelForValue(0);
const box = document.getElementById("box");
box.style.left = (boxLeft - bw / 2) + "px";
box.style.top = (boxTop - bw / 2) + "px";
box.style.width = (boxRight - boxLeft + bw) + "px";
box.style.height = (boxBottom - boxTop + bw) + "px";
</script>
</body>
</html>
